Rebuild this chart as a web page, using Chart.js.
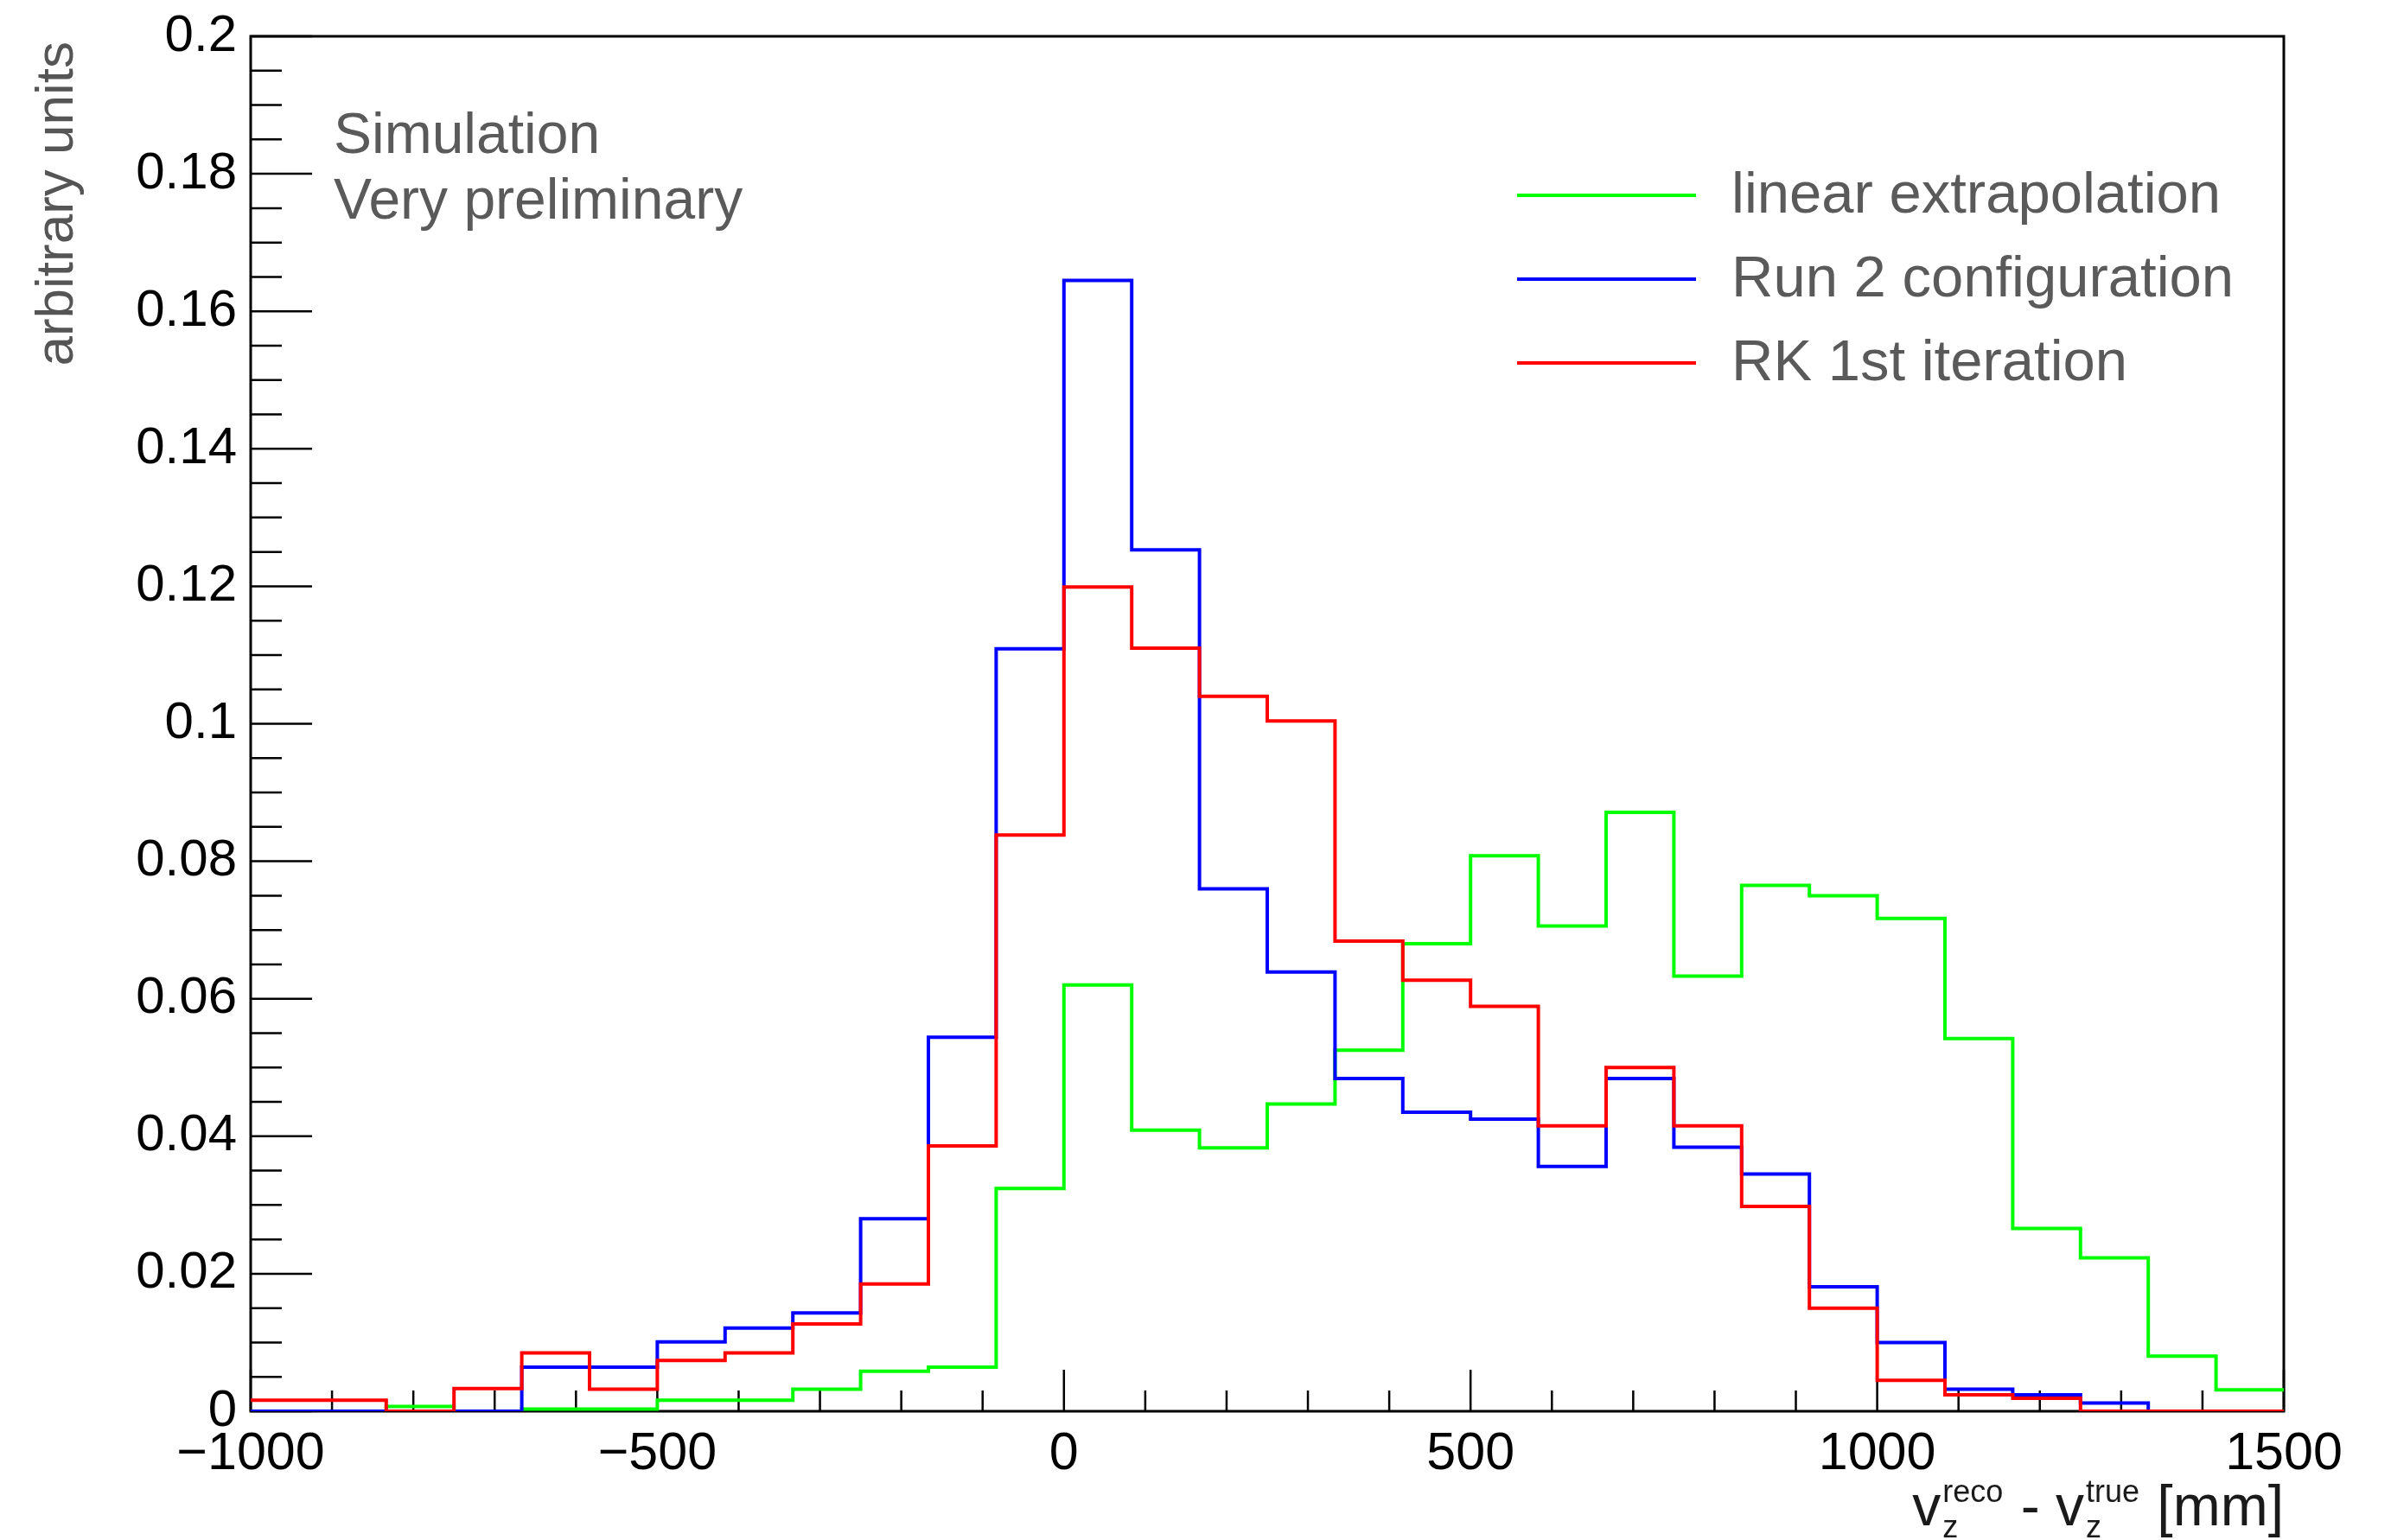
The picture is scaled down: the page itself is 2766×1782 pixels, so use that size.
<!DOCTYPE html>
<html><head><meta charset="utf-8">
<script src="https://cdn.jsdelivr.net/npm/chart.js@4/dist/chart.umd.min.js"></script>
<style>html,body{margin:0;padding:0;background:#fff;}canvas{display:block;}</style>
</head><body>
<canvas id="c" width="2766" height="1782"></canvas>
<script>
// ---- data ----
const xMin = -1000, xMax = 1500, nBins = 30;
const seriesNames = ['linear extrapolation', 'Run 2 configuration', 'RK 1st iteration'];
const seriesColors = ['#00ff00', '#0000ff', '#ff0000'];
const linearExtrapolation = [0, 0, 0.0007, 0, 0.0003, 0.0003, 0.0016, 0.0016, 0.0032, 0.0058,
  0.0064, 0.0324, 0.0620, 0.0409, 0.0383, 0.0447, 0.0525, 0.0680, 0.0808, 0.0706,
  0.0871, 0.0633, 0.0765, 0.0750, 0.0717, 0.0542, 0.0266, 0.0223, 0.0080, 0.0031];
const run2Configuration = [0, 0, 0, 0, 0.0064, 0.0064, 0.0101, 0.0121, 0.0143, 0.0280,
  0.0544, 0.1109, 0.1645, 0.1253, 0.0760, 0.0639, 0.0484, 0.0435, 0.0425, 0.0356,
  0.0484, 0.0384, 0.0345, 0.0181, 0.0100, 0.0032, 0.0024, 0.0012, 0, 0];
const rk1stIteration = [0.0016, 0.0016, 0, 0.0033, 0.0085, 0.0032, 0.0074, 0.0085, 0.0127, 0.0185,
  0.0386, 0.0838, 0.1199, 0.1110, 0.1040, 0.1004, 0.0684, 0.0627, 0.0589, 0.0415,
  0.0500, 0.0415, 0.0298, 0.0150, 0.0045, 0.0024, 0.0019, 0, 0, 0];
const yTickValues = [0, 0.02, 0.04, 0.06, 0.08, 0.1, 0.12, 0.14, 0.16, 0.18, 0.2];
const yTickLabels = ['0', '0.02', '0.04', '0.06', '0.08', '0.1', '0.12', '0.14', '0.16', '0.18', '0.2'];
const xTickValues = [-1000, -500, 0, 500, 1000, 1500];
const xTickLabels = ['\u22121000', '\u2212500', '0', '500', '1000', '1500'];
const yMinorStep = 0.005, xMinorStep = 100;
const textLines = ['Simulation', 'Very preliminary'];
const yTitle = 'arbitrary units';

// ---- build ----
const FONT = '"Liberation Sans", Arial, Helvetica, sans-serif';
function toSteps(vals) {
  const w = (xMax - xMin) / nBins;
  const pts = vals.map((v, i) => ({x: xMin + i * w, y: v}));
  pts.push({x: xMax, y: vals[vals.length - 1]});
  return pts;
}
const allSeries = [linearExtrapolation, run2Configuration, rk1stIteration];
const datasets = allSeries.map((vals, i) => ({
  label: seriesNames[i],
  data: toSteps(vals),
  borderColor: seriesColors[i],
  borderWidth: 4,
  stepped: 'before',
  pointRadius: 0,
  fill: false,
  tension: 0,
  order: 3 - i
}));

const decor = {
  id: 'decor',
  beforeDatasetsDraw(chart) {
    const ctx = chart.ctx, a = chart.chartArea, xs = chart.scales.x, ys = chart.scales.y;
    ctx.save();
    ctx.strokeStyle = '#000';
    ctx.lineWidth = 3;
    ctx.lineCap = 'butt';
    ctx.strokeRect(a.left, a.top, a.right - a.left, a.bottom - a.top);
    ctx.lineWidth = 2.5;
    ctx.beginPath();
    const nYm = Math.round((ys.max - ys.min) / yMinorStep);
    for (let k = 0; k <= nYm; k++) {
      const v = ys.min + k * yMinorStep;
      const major = yTickValues.some(t => Math.abs(t - v) < 1e-9);
      const y = ys.getPixelForValue(v);
      ctx.moveTo(a.left, y); ctx.lineTo(a.left + (major ? 71 : 36), y);
    }
    const nXm = Math.round((xs.max - xs.min) / xMinorStep);
    for (let k = 0; k <= nXm; k++) {
      const v = xs.min + k * xMinorStep;
      const major = xTickValues.some(t => Math.abs(t - v) < 1e-9);
      const x = xs.getPixelForValue(v);
      ctx.moveTo(x, a.bottom); ctx.lineTo(x, a.bottom - (major ? 48 : 24));
    }
    ctx.stroke();
    ctx.restore();
  },
  afterDatasetsDraw(chart) {
    const ctx = chart.ctx, a = chart.chartArea;
    ctx.save();
    ctx.fillStyle = '#5a5a5a';
    ctx.font = '66px ' + FONT;
    ctx.textAlign = 'left';
    ctx.textBaseline = 'alphabetic';
    ctx.fillText(textLines[0], 386, 177);
    ctx.fillText(textLines[1], 386, 253);
    // legend
    const rows = [226, 323, 420];
    [0, 1, 2].forEach((di, r) => {
      const ds = chart.data.datasets[di];
      ctx.strokeStyle = ds.borderColor;
      ctx.lineWidth = 4;
      ctx.beginPath();
      ctx.moveTo(1755, rows[r]); ctx.lineTo(1962, rows[r]);
      ctx.stroke();
      ctx.fillStyle = '#5a5a5a';
      ctx.font = '67px ' + FONT;
      ctx.textBaseline = 'middle';
      ctx.fillText(ds.label, 2003, rows[r] + 2);
    });
    // y title
    ctx.save();
    ctx.translate(84, a.top + 6);
    ctx.rotate(-Math.PI / 2);
    ctx.fillStyle = '#555';
    ctx.font = '62px ' + FONT;
    ctx.textAlign = 'right';
    ctx.textBaseline = 'alphabetic';
    ctx.fillText(yTitle, 0, 0);
    ctx.restore();
    // x title: v_z^reco - v_z^true [mm]
    const big = '66px ' + FONT, small = '36px ' + FONT;
    const parts = [
      {t: 'v', f: big},
      {sup: 'reco', sub: 'z'},
      {t: ' - ', f: big},
      {t: 'v', f: big},
      {sup: 'true', sub: 'z'},
      {t: ' [mm]', f: big}
    ];
    const widths = parts.map(p => {
      if (p.t !== undefined) { ctx.font = p.f; return ctx.measureText(p.t).width; }
      ctx.font = small;
      return Math.max(ctx.measureText(p.sup).width, ctx.measureText(p.sub).width) + 4;
    });
    const total = widths.reduce((s, w) => s + w, 0);
    let x = a.right - total;
    const base = 1765;
    ctx.fillStyle = '#1a1a1a';
    ctx.textAlign = 'left';
    ctx.textBaseline = 'alphabetic';
    parts.forEach((p, i) => {
      if (p.t !== undefined) {
        ctx.font = p.f; ctx.fillText(p.t, x, base);
      } else {
        ctx.font = small;
        ctx.fillText(p.sup, x + 2, base - 27);
        ctx.fillText(p.sub, x + 2, base + 14);
      }
      x += widths[i];
    });
    ctx.restore();
  }
};

new Chart(document.getElementById('c'), {
  type: 'line',
  data: {datasets},
  options: {
    responsive: false,
    devicePixelRatio: 1,
    animation: false,
    events: [],
    layout: {padding: {left: 0, right: 124, top: 42, bottom: 0}},
    plugins: {legend: {display: false}, tooltip: {enabled: false}},
    scales: {
      x: {
        type: 'linear', min: xMin, max: xMax,
        afterFit(s) { s.height = 149; s.paddingLeft = 0; s.paddingRight = 0; },
        afterBuildTicks(s) { s.ticks = xTickValues.map(v => ({value: v})); },
        grid: {display: false, drawTicks: false},
        border: {display: false},
        ticks: {
          padding: 14, color: '#000', maxRotation: 0, autoSkip: false,
          font: {family: FONT, size: 61},
          callback: (v) => { const i = xTickValues.findIndex(t => Math.abs(t - v) < 1e-9); return i >= 0 ? xTickLabels[i] : ''; }
        }
      },
      y: {
        type: 'linear', min: 0, max: 0.2,
        afterFit(s) { s.width = 290; s.paddingTop = 0; s.paddingBottom = 0; },
        afterBuildTicks(s) { s.ticks = yTickValues.map(v => ({value: v})); },
        grid: {display: false, drawTicks: false},
        border: {display: false},
        ticks: {
          padding: 16, color: '#000', autoSkip: false,
          font: {family: FONT, size: 60},
          callback: (v) => { const i = yTickValues.findIndex(t => Math.abs(t - v) < 1e-9); return i >= 0 ? yTickLabels[i] : ''; }
        }
      }
    }
  },
  plugins: [decor]
});
</script>
</body></html>
